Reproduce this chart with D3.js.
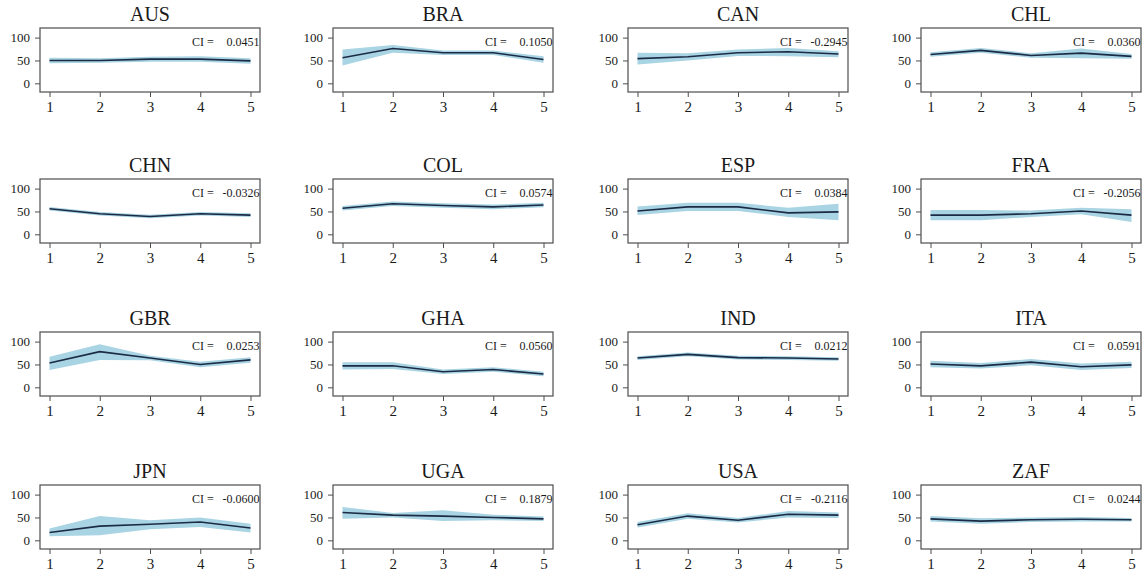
<!DOCTYPE html>
<html>
<head>
<meta charset="utf-8">
<script src="https://cdn.jsdelivr.net/npm/d3@7"></script>
<style>
  html, body { margin: 0; padding: 0; background: #fff; }
  svg { display: block; }
  text { font-family: "Liberation Serif", "Times New Roman", serif; fill: #1a1a1a; }
</style>
</head>
<body>
<div id="chart"></div>
<script>
// data
const countries = ["AUS", "BRA", "CAN", "CHL", "CHN", "COL", "ESP", "FRA",
                   "GBR", "GHA", "IND", "ITA", "JPN", "UGA", "USA", "ZAF"];
const ciValues = ["0.0451", "0.1050", "-0.2945", "0.0360", "-0.0326", "0.0574", "0.0384", "-0.2056",
                  "0.0253", "0.0560", "0.0212", "0.0591", "-0.0600", "0.1879", "-0.2116", "0.0244"];
const periods = [1, 2, 3, 4, 5];
const yTicks = [0, 50, 100];

const means = [
  [50, 50, 53, 53, 49],
  [56, 76, 67, 67, 52],
  [54, 58, 67, 69, 64],
  [63, 72, 61, 66, 59],
  [56, 45, 39, 45, 42],
  [57, 67, 63, 60, 64],
  [51, 60, 60, 47, 49],
  [42, 42, 45, 51, 42],
  [53, 78, 64, 50, 60],
  [47, 47, 34, 39, 29],
  [64, 72, 65, 64, 62],
  [51, 47, 55, 45, 49],
  [17, 31, 35, 40, 27],
  [61, 55, 53, 50, 47],
  [34, 53, 44, 57, 55],
  [47, 42, 45, 46, 45]
];
const lower = [
  [44, 45, 47, 47, 43],
  [39, 67, 62, 62, 45],
  [41, 50, 60, 59, 57],
  [58, 67, 56, 55, 54],
  [52, 41, 35, 41, 38],
  [52, 62, 58, 55, 59],
  [42, 51, 51, 38, 31],
  [31, 31, 38, 44, 27],
  [38, 60, 59, 44, 54],
  [39, 40, 29, 34, 24],
  [60, 68, 61, 60, 58],
  [44, 41, 48, 38, 42],
  [9, 11, 24, 29, 17],
  [47, 50, 42, 44, 42],
  [28, 47, 39, 50, 49],
  [41, 36, 40, 41, 41]
];
const upper = [
  [56, 55, 58, 59, 55],
  [74, 84, 72, 72, 59],
  [67, 66, 74, 77, 70],
  [68, 77, 66, 76, 64],
  [60, 49, 43, 49, 46],
  [62, 72, 68, 65, 69],
  [61, 69, 69, 58, 67],
  [53, 53, 52, 58, 55],
  [67, 94, 69, 56, 66],
  [55, 55, 39, 44, 34],
  [68, 76, 69, 68, 66],
  [58, 53, 62, 52, 56],
  [26, 53, 44, 50, 36],
  [73, 60, 66, 56, 52],
  [40, 59, 49, 64, 61],
  [53, 48, 50, 51, 49]
];

const width = 1144, height = 579;
const colLeft = [40, 333, 628, 921];
const rowTop = [28, 179, 332, 485];
const boxW = 220, boxH = 64;
const serif = "'Liberation Serif', 'Times New Roman', serif";

const svg = d3.select("#chart").append("svg")
  .attr("width", width)
  .attr("height", height);

const x = d3.scaleLinear().domain([1, 5]).range([9.5, 210.5]);
const y = d3.scaleLinear().domain([-19, 121]).range([boxH, 0]);

const area = d3.area()
  .x((d, i) => x(periods[i]))
  .y0(d => y(d[0]))
  .y1(d => y(d[1]));

const line = d3.line()
  .x((d, i) => x(periods[i]))
  .y(d => y(d));

countries.forEach((name, k) => {
  const g = svg.append("g")
    .attr("transform", `translate(${colLeft[k % 4]}, ${rowTop[Math.floor(k / 4)]})`);

  const band = lower[k].map((lo, i) => [lo, upper[k][i]]);
  g.append("path")
    .attr("d", area(band))
    .attr("fill", "#a9d4e3");

  g.append("path")
    .attr("d", line(means[k]))
    .attr("fill", "none")
    .attr("stroke", "#1b2b45")
    .attr("stroke-width", 1.6);

  g.append("rect")
    .attr("width", boxW)
    .attr("height", boxH)
    .attr("fill", "none")
    .attr("stroke", "#4d4d4d")
    .attr("stroke-width", 1.2);

  const ax = g.append("g")
    .attr("transform", `translate(0, ${boxH})`)
    .attr("font-family", serif)
    .call(d3.axisBottom(x).tickValues(periods).tickFormat(d3.format("d")).tickSize(5).tickPadding(4));
  ax.select(".domain").remove();
  ax.selectAll("line").attr("stroke", "#4d4d4d");
  ax.selectAll("text").attr("font-size", 15).attr("font-family", serif).attr("fill", "#1a1a1a");

  const ay = g.append("g")
    .attr("font-family", serif)
    .call(d3.axisLeft(y).tickValues(yTicks).tickSize(5).tickPadding(5));
  ay.select(".domain").remove();
  ay.selectAll("line").attr("stroke", "#4d4d4d");
  ay.selectAll("text").attr("font-size", 13).attr("font-family", serif).attr("fill", "#1a1a1a");

  g.append("text")
    .attr("x", boxW / 2)
    .attr("y", -7)
    .attr("text-anchor", "middle")
    .attr("font-size", 20)
    .text(name);

  g.append("text")
    .attr("x", 152)
    .attr("y", 17.5)
    .attr("font-size", 12)
    .text("CI =");

  g.append("text")
    .attr("x", 219.5)
    .attr("y", 17.5)
    .attr("text-anchor", "end")
    .attr("font-size", 12)
    .text(ciValues[k]);
});
</script>
</body>
</html>
